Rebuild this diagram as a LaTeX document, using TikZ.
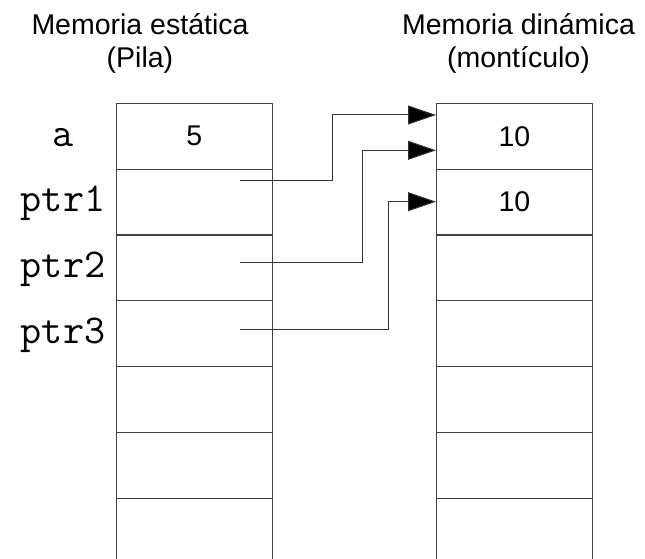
\documentclass[tikz,border=0pt]{standalone}
\usepackage{fontspec}
\setmainfont{Liberation Sans}
\usetikzlibrary{arrows.meta,calc}

\tikzset{
  cell/.style={draw=black!75, line width=1.3pt, minimum width=155.5pt,
    minimum height=65.8pt, inner sep=0pt, anchor=north west},
  value/.style={inner sep=0pt, font=\fontsize{28.5}{33}\selectfont},
  varname/.style={anchor=base, inner sep=0pt,
    font=\ttfamily\fontsize{41}{44}\selectfont},
  header/.style={align=center, anchor=base, inner sep=0pt,
    font=\fontsize{28.5}{33}\selectfont},
  pointer/.style={draw=black!80, line width=1pt,
    -{Triangle[length=28pt,width=19pt,fill=black]}}
}

\begin{document}
\begin{tikzpicture}[x=1pt, y=-1pt]
  \useasboundingbox (0,0) rectangle (645,559);
  \clip (0,0) rectangle (645,559);

  % column titles (anchored on the baseline of their last line)
  \node[header] (hs) at (140,67.3) {Memoria estática\\(Pila)};
  \node[header] (hd) at (518.5,67.3) {Memoria dinámica\\(montículo)};

  % stack cells (left) and heap cells (right)
  \foreach \i [evaluate=\i as \y using {102.7+65.8*(\i-1)}] in {1,...,7} {
    \node[cell] (l\i) at (116,\y) {};
    \node[cell] (r\i) at (436,\y) {};
  }
  \node[value] (v5) at (l1.center) {5};
  \node[value] (v10a) at (r1.center) {10};
  \node[value] (v10b) at (r2.center) {10};

  % variable names
  \node[varname] (na) at (63,146.5) {a};
  \node[varname] (n1) at (63,211.7) {ptr1};
  \node[varname] (n2) at (63,277.5) {ptr2};
  \node[varname] (n3) at (63,343.3) {ptr3};

  % pointer origins and targets
  \coordinate (s1) at (240,180);
  \coordinate (s2) at (240,262.7);
  \coordinate (s3) at (240,329.3);
  \coordinate (e1) at ($(r1.north west)+(0,12.3)$);
  \coordinate (e2) at (436,150.3);
  \coordinate (e3) at (436,201.7);

  \draw[pointer] (s1) -- (332.7,180) |- (e1);
  \draw[pointer] (s2) -- (362.7,262.7) |- (e2);
  \draw[pointer] (s3) -- (388.3,329.3) |- (e3);
\end{tikzpicture}
\end{document}
